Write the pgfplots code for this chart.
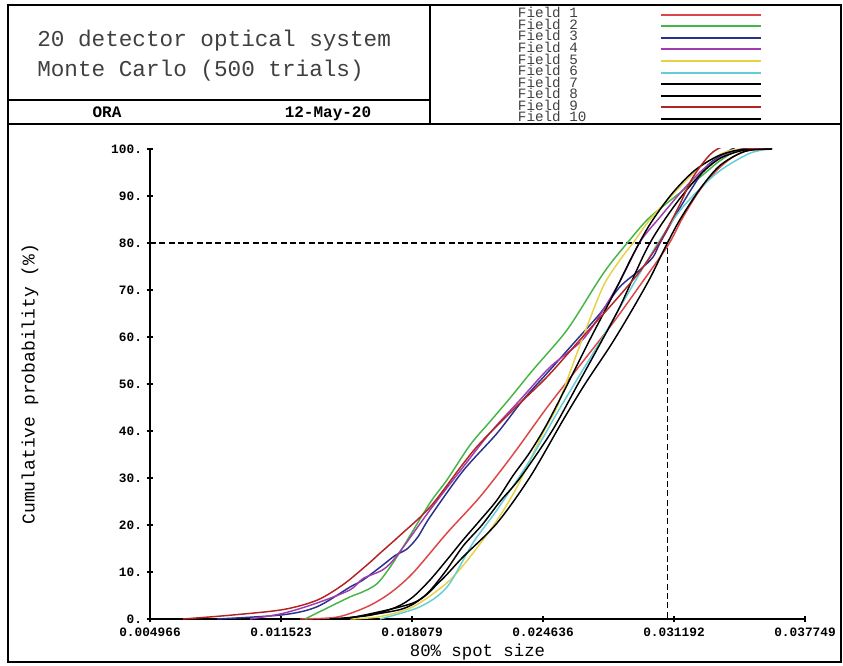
\documentclass[border=0pt]{standalone}
\usepackage{fontspec}
\setmainfont{Liberation Mono}
\usepackage{pgfplots}
\pgfplotsset{compat=1.18}

\definecolor{fone}{RGB}{220,70,70}
\definecolor{ftwo}{RGB}{70,180,70}
\definecolor{fthree}{RGB}{40,50,140}
\definecolor{ffour}{RGB}{160,60,175}
\definecolor{ffive}{RGB}{230,210,70}
\definecolor{fsix}{RGB}{100,205,215}
\definecolor{fnine}{RGB}{180,35,35}

\begin{document}
\begin{tikzpicture}[x=0.75pt,y=0.75pt]
\useasboundingbox (0,0) rectangle (843,665);
% frame and header boxes
\draw[line width=1.5pt] (8,3) rectangle (841,660);
\draw[line width=1.5pt] (430,660) -- (430,541);
\draw[line width=1.5pt] (8,541) -- (841,541);
\draw[line width=1.5pt] (8,565) -- (430,565);
\node[anchor=base west, inner sep=0pt, text=black!75, font=\fontsize{17}{17}\selectfont]
  at (37,618) {20 detector optical system};
\node[anchor=base west, inner sep=0pt, text=black!75, font=\fontsize{17}{17}\selectfont]
  at (37,588) {Monte Carlo (500 trials)};
\node[anchor=base, inner sep=0pt, font=\bfseries\fontsize{12}{12}\selectfont] at (107,547) {ORA};
\node[anchor=base, inner sep=0pt, font=\bfseries\fontsize{12}{12}\selectfont] at (328,547) {12-May-20};

\begin{axis}[
  at={(112.5pt,34.5pt)}, anchor=south west,
  scale only axis, width=491.25pt, height=352.5pt,
  xmin=0.004966, xmax=0.037749, ymin=0, ymax=100,
  axis x line=bottom, axis y line=left,
  axis line style={-, line width=1.1pt},
  tick style={black, line width=1pt},
  tick align=center, major tick length=5pt,
  scaled x ticks=false,
  xtick={0.004966,0.011523,0.018079,0.024636,0.031192,0.037749},
  xticklabels={0.004966,0.011523,0.018079,0.024636,0.031192,0.037749},
  ytick={0,10,20,30,40,50,60,70,80,90,100},
  yticklabels={0.,10.,20.,30.,40.,50.,60.,70.,80.,90.,100.},
  tick label style={font=\bfseries\fontsize{9.6}{9.6}\selectfont},
  xticklabel style={yshift=-1pt},
  xlabel={80\% spot size},
  ylabel={Cumulative probability (\%)},
  xlabel style={at={(axis description cs:0.5,-0.0702)}, anchor=center,
                font=\fontsize{13}{13}\selectfont},
  ylabel style={at={(axis description cs:-0.1832,0.5)}, anchor=center, rotate=0,
                font=\fontsize{13.5}{13.5}\selectfont},
  legend plot pos=right,
  legend cell align=left,
  legend image code/.code={\draw[#1, line width=1.5pt] (0pt,0pt) -- (75pt,0pt);},
  legend style={at={(axis description cs:0.5618,1.2979)}, anchor=north west,
    draw=none, fill=none, inner sep=0pt, outer sep=0pt,
    row sep=0pt, column sep=55pt,
    font=\fontsize{10.7}{10.7}\selectfont, text=black!75,
    nodes={inner sep=0pt, text height=6.62pt, text depth=2.06pt, anchor=west}},
  every axis plot/.append style={line width=1.1pt, smooth},
]
\addplot[black, line width=0.8pt, dash pattern=on 4.5pt off 2.5pt, sharp plot, forget plot]
  coordinates {(0.004966,80) (0.03089,80) (0.03089,0)};

% Field 1
\addplot[fone] coordinates {
(0.012474,0) (0.014325,0.4) (0.015827,2.6) (0.016978,5.5) (0.018129,9.8)
(0.019831,18.3) (0.021483,26) (0.023134,35) (0.024836,45) (0.026488,54)
(0.028139,63) (0.029491,71) (0.030892,79.5) (0.031643,85.5) (0.032494,91.3)
(0.033344,95.5) (0.034145,98.3) (0.034996,99.8) (0.036097,100)};
\addlegendentry{Field 1}
% Field 2
\addplot[ftwo] coordinates {
(0.012724,0) (0.013625,1.9) (0.014976,4.7) (0.015627,5.8) (0.016327,7.5)
(0.016978,11) (0.017629,15.3) (0.018980,24.7) (0.019831,29.6) (0.020982,37)
(0.021983,42) (0.022984,47) (0.024135,53) (0.025837,61.5) (0.027338,71.5)
(0.027989,75.5) (0.028890,80.2) (0.029841,84.9) (0.030842,88.5) (0.032494,94)
(0.033495,97.5) (0.034496,99.8) (0.036097,100)};
\addlegendentry{Field 2}
% Field 3
\addplot[fthree] coordinates {
(0.008319,0) (0.011623,0.9) (0.013324,2.6) (0.014976,6.8) (0.015627,8.3)
(0.016628,11.5) (0.017228,13.5) (0.017829,14.9) (0.018379,17.5) (0.018980,21.7)
(0.020632,31.5) (0.022333,39.5) (0.023635,46.6) (0.024986,53) (0.026237,59)
(0.027489,65) (0.028490,70.7) (0.029491,74.3) (0.030141,77) (0.030492,80)
(0.031343,86.4) (0.032143,92) (0.032994,97) (0.034646,101.2) (0.035346,101.4)
(0.036097,100.4)};
\addlegendentry{Field 3}
% Field 4
\addplot[ffour] coordinates {
(0.009971,0) (0.011623,1.2) (0.013324,3.4) (0.014976,6.2) (0.015627,8.6)
(0.016628,10.5) (0.017328,13.5) (0.018980,23.2) (0.020632,32.3) (0.021983,39.6)
(0.023485,46.6) (0.024986,53.6) (0.026738,60) (0.028339,70.7) (0.029491,80.2)
(0.030492,85.5) (0.031643,91.3) (0.032744,96) (0.033995,99.3) (0.034996,100.2)
(0.036097,100)};
\addlegendentry{Field 4}
% Field 5
\addplot[ffive] coordinates {
(0.014976,0) (0.016478,0.5) (0.018129,2.6) (0.019831,7.7) (0.020982,13.2)
(0.022333,21) (0.023334,28.1) (0.024636,39.6) (0.025336,45.1) (0.025987,52.5)
(0.026638,60) (0.027639,70.7) (0.028490,76.4) (0.029140,80) (0.029991,85)
(0.031343,91.3) (0.032494,96.2) (0.033144,98) (0.034145,99.8) (0.036097,100)};
\addlegendentry{Field 5}
% Field 6
\addplot[fsix] coordinates {
(0.016478,0) (0.018480,2.6) (0.019831,6.8) (0.021132,16.2) (0.022333,23.2)
(0.023985,33.8) (0.025336,43.8) (0.026488,52) (0.027639,60) (0.028990,70)
(0.030392,80) (0.031643,87.7) (0.033344,94.9) (0.034996,99.1) (0.036097,100)};
\addlegendentry{Field 6}
% Field 7
\addplot[black] coordinates {
(0.013975,0) (0.015977,0.8) (0.017328,2.6) (0.018129,4.7) (0.018980,8.3)
(0.019831,12.6) (0.020632,16.8) (0.021483,21) (0.022333,25.3) (0.023134,30.5)
(0.023985,35.5) (0.024836,41.5) (0.025987,51) (0.026988,59.5) (0.028089,68.5)
(0.029140,77.5) (0.029991,84) (0.031092,90.5) (0.032243,95.5) (0.033495,98.7)
(0.034746,100) (0.036097,100)};
\addlegendentry{Field 7}
% Field 8
\addplot[black] coordinates {
(0.014476,0) (0.017479,2) (0.018730,5) (0.019731,10) (0.020632,15.5)
(0.021583,20) (0.022484,25) (0.023485,30) (0.025086,40) (0.026387,50)
(0.027489,58.5) (0.028490,66.5) (0.029741,78) (0.030492,83.5) (0.031493,89.5)
(0.032494,94.5) (0.033495,98) (0.034746,99.8) (0.036097,100)};
\addlegendentry{Field 8}
% Field 9
\addplot[fnine] coordinates {
(0.006618,0) (0.008970,0.8) (0.011623,2.0) (0.013324,4.0) (0.014626,7.3)
(0.015827,11.5) (0.016478,14.0) (0.017479,17.8) (0.018980,23.8) (0.020632,33.0)
(0.021483,37.4) (0.023134,44.5) (0.024836,51.5) (0.026488,59.4) (0.028139,67.2)
(0.029491,74) (0.030492,80.3) (0.031343,87) (0.032143,94) (0.032994,98.8)
(0.033645,100.5) (0.034345,100.6) (0.034996,100.1) (0.036097,100)};
\addlegendentry{Field 9}
% Field 10
\addplot[black] coordinates {
(0.014726,0) (0.018129,3.4) (0.019481,8) (0.020632,13.2) (0.022333,20.4)
(0.023985,30.2) (0.025637,42.3) (0.026738,50) (0.027989,58) (0.028990,65)
(0.029991,72.5) (0.030742,79) (0.031493,85) (0.032494,91.5) (0.033495,96.5)
(0.034746,99.5) (0.036097,100)};
\addlegendentry{Field 10}
\end{axis}
\end{tikzpicture}
\end{document}
